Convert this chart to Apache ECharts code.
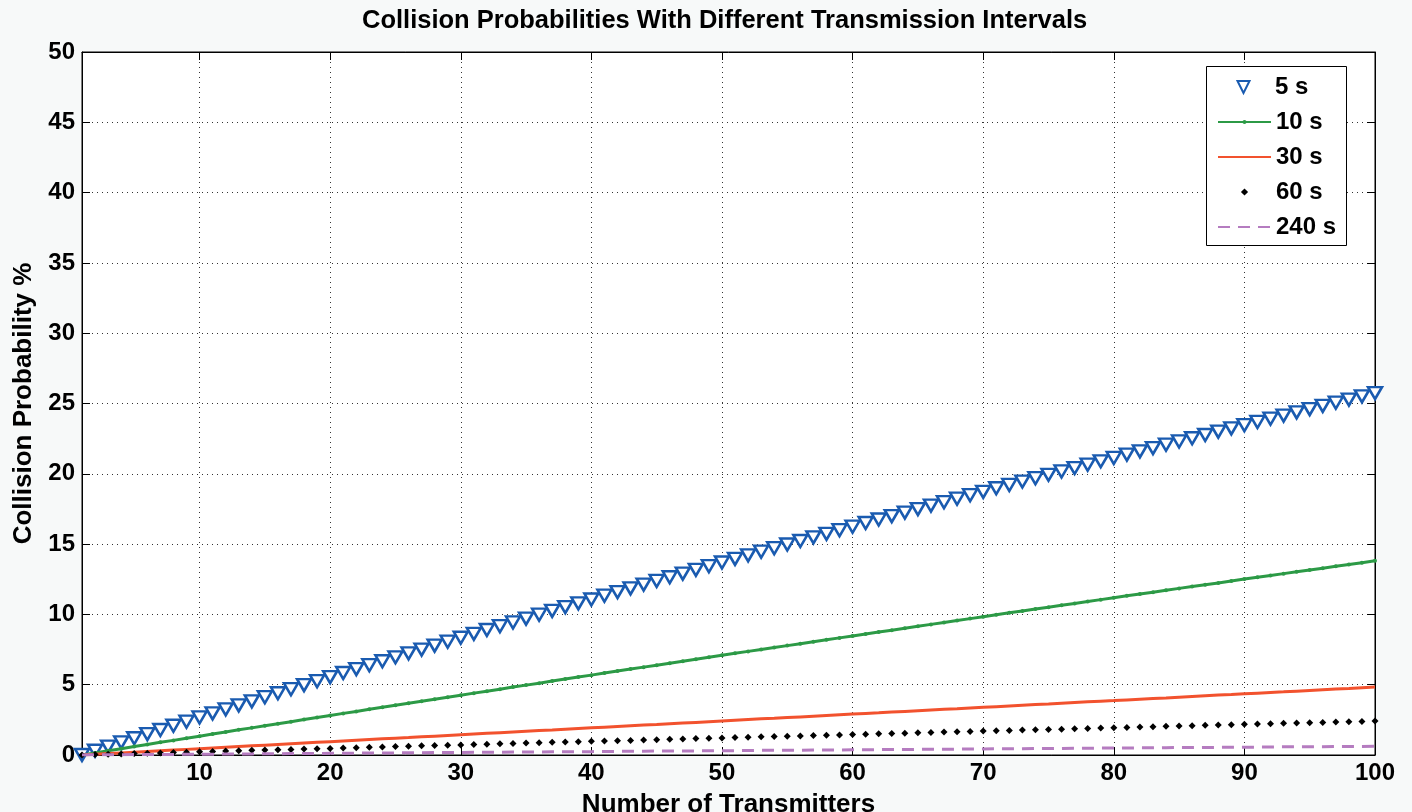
<!DOCTYPE html>
<html>
<head>
<meta charset="utf-8">
<title>Collision Probabilities</title>
<script src="https://cdn.jsdelivr.net/npm/echarts@6/dist/echarts.min.js"></script>
<style>
  html, body { margin: 0; padding: 0; background: #f7f9f9; }
  #chart { width: 1412px; height: 812px; }
</style>
</head>
<body>
<div id="chart"></div>
<script>
// collision probability (%) per number of transmitters, n = 1..100
const xTicks = [10, 20, 30, 40, 50, 60, 70, 80, 90, 100];

const p5s = [
  0, 0.30, 0.60, 0.90, 1.19, 1.49, 1.78, 2.08, 2.37, 2.67,
  2.96, 3.25, 3.53, 3.82, 4.11, 4.39, 4.68, 4.97, 5.25, 5.54,
  5.83, 6.11, 6.39, 6.67, 6.95, 7.23, 7.50, 7.78, 8.06, 8.34,
  8.62, 8.89, 9.16, 9.43, 9.70, 9.98, 10.25, 10.52, 10.79, 11.06,
  11.33, 11.59, 11.85, 12.12, 12.38, 12.64, 12.90, 13.17, 13.43, 13.69,
  13.95, 14.20, 14.46, 14.71, 14.97, 15.22, 15.48, 15.73, 15.99, 16.24,
  16.50, 16.75, 16.99, 17.24, 17.49, 17.74, 17.98, 18.23, 18.48, 18.72,
  18.97, 19.21, 19.45, 19.69, 19.93, 20.17, 20.41, 20.65, 20.89, 21.13,
  21.37, 21.60, 21.83, 22.07, 22.30, 22.53, 22.76, 23.00, 23.23, 23.46,
  23.69, 23.92, 24.14, 24.37, 24.60, 24.83, 25.06, 25.28, 25.51, 25.74
];

const p10s = [
  0, 0.15, 0.30, 0.45, 0.60, 0.75, 0.90, 1.04, 1.19, 1.34,
  1.49, 1.64, 1.79, 1.93, 2.08, 2.23, 2.37, 2.52, 2.67, 2.81,
  2.96, 3.10, 3.25, 3.39, 3.54, 3.68, 3.82, 3.97, 4.11, 4.25,
  4.40, 4.54, 4.68, 4.83, 4.97, 5.11, 5.26, 5.40, 5.54, 5.68,
  5.83, 5.97, 6.11, 6.25, 6.39, 6.53, 6.67, 6.81, 6.95, 7.09,
  7.23, 7.37, 7.51, 7.64, 7.78, 7.92, 8.06, 8.19, 8.33, 8.47,
  8.61, 8.75, 8.88, 9.02, 9.15, 9.29, 9.43, 9.56, 9.70, 9.83,
  9.97, 10.11, 10.24, 10.38, 10.51, 10.65, 10.78, 10.92, 11.05, 11.19,
  11.32, 11.45, 11.58, 11.72, 11.85, 11.98, 12.11, 12.24, 12.38, 12.51,
  12.64, 12.77, 12.90, 13.03, 13.16, 13.29, 13.42, 13.55, 13.68, 13.81
];

const p30s = [
  0, 0.05, 0.10, 0.15, 0.20, 0.25, 0.30, 0.35, 0.40, 0.45,
  0.50, 0.55, 0.60, 0.65, 0.70, 0.75, 0.80, 0.85, 0.90, 0.95,
  1.00, 1.05, 1.10, 1.15, 1.20, 1.24, 1.29, 1.34, 1.39, 1.44,
  1.49, 1.54, 1.59, 1.64, 1.69, 1.74, 1.78, 1.83, 1.88, 1.93,
  1.98, 2.03, 2.08, 2.13, 2.17, 2.22, 2.27, 2.32, 2.37, 2.42,
  2.47, 2.52, 2.57, 2.61, 2.66, 2.71, 2.76, 2.81, 2.86, 2.91,
  2.96, 3.00, 3.05, 3.10, 3.15, 3.20, 3.25, 3.29, 3.34, 3.39,
  3.44, 3.49, 3.54, 3.59, 3.63, 3.68, 3.73, 3.78, 3.83, 3.87,
  3.92, 3.97, 4.02, 4.06, 4.11, 4.16, 4.21, 4.26, 4.30, 4.35,
  4.40, 4.45, 4.49, 4.54, 4.59, 4.64, 4.69, 4.73, 4.78, 4.83
];

const p60s = [
  0, 0.03, 0.05, 0.08, 0.10, 0.13, 0.15, 0.18, 0.20, 0.23,
  0.25, 0.28, 0.30, 0.33, 0.35, 0.37, 0.40, 0.42, 0.45, 0.47,
  0.50, 0.52, 0.55, 0.57, 0.60, 0.62, 0.65, 0.67, 0.70, 0.72,
  0.75, 0.77, 0.80, 0.82, 0.85, 0.87, 0.90, 0.92, 0.94, 0.97,
  0.99, 1.02, 1.04, 1.07, 1.09, 1.12, 1.14, 1.17, 1.19, 1.21,
  1.24, 1.26, 1.29, 1.31, 1.34, 1.36, 1.38, 1.41, 1.43, 1.46,
  1.48, 1.51, 1.53, 1.55, 1.58, 1.60, 1.63, 1.65, 1.68, 1.70,
  1.72, 1.75, 1.77, 1.80, 1.82, 1.84, 1.87, 1.89, 1.92, 1.94,
  1.96, 1.99, 2.01, 2.04, 2.06, 2.08, 2.11, 2.13, 2.15, 2.18,
  2.20, 2.23, 2.25, 2.27, 2.30, 2.32, 2.34, 2.37, 2.39, 2.42
];

const p240s = [
  0, 0.01, 0.01, 0.02, 0.03, 0.03, 0.04, 0.04, 0.05, 0.06,
  0.06, 0.07, 0.08, 0.08, 0.09, 0.09, 0.10, 0.11, 0.11, 0.12,
  0.13, 0.13, 0.14, 0.14, 0.15, 0.16, 0.16, 0.17, 0.18, 0.18,
  0.19, 0.19, 0.20, 0.21, 0.21, 0.22, 0.23, 0.23, 0.24, 0.24,
  0.25, 0.26, 0.26, 0.27, 0.28, 0.28, 0.29, 0.29, 0.30, 0.31,
  0.31, 0.32, 0.33, 0.33, 0.34, 0.34, 0.35, 0.36, 0.36, 0.37,
  0.38, 0.38, 0.39, 0.39, 0.40, 0.41, 0.41, 0.42, 0.43, 0.43,
  0.44, 0.44, 0.45, 0.46, 0.46, 0.47, 0.48, 0.48, 0.49, 0.49,
  0.50, 0.51, 0.51, 0.52, 0.53, 0.53, 0.54, 0.54, 0.55, 0.56,
  0.56, 0.57, 0.58, 0.58, 0.59, 0.59, 0.60, 0.61, 0.61, 0.62
];

const font = '"Liberation Sans", Arial, sans-serif';
const toPairs = (arr) => arr.map((v, i) => [i + 1, v]);

const chart = echarts.init(document.getElementById('chart'), null, { renderer: 'canvas' });

const tickStyle = { show: true, inside: true, length: 8, lineStyle: { color: '#000', width: 1 } };
const gridLine = { show: true, lineStyle: { color: '#333', width: 1, type: [1, 4] } };
const legendText = { fontFamily: font, fontWeight: 'bold', fontSize: 24, color: '#000' };

// three legends share one box so each can keep its own marker size
function legendPart(names, top, itemHeight) {
  return {
    orient: 'vertical',
    left: 1217,
    top: top,
    padding: 0,
    itemWidth: 53,
    itemHeight: itemHeight,
    itemGap: 11,
    textStyle: legendText,
    z: 12,
    data: names
  };
}

const option = {
  backgroundColor: '#f7f9f9',
  animation: false,
  title: {
    text: 'Collision Probabilities With Different Transmission Intervals',
    left: 362,
    top: 8,
    padding: 0,
    textStyle: { fontFamily: font, fontWeight: 'bold', fontSize: 25.5, color: '#000' }
  },
  grid: {
    left: 82, right: 37, top: 52, bottom: 57,
    outerBoundsMode: 'none',
    containLabel: false,
    show: true, backgroundColor: '#ffffff', borderColor: '#000', borderWidth: 1
  },
  graphic: [{
    type: 'rect',
    z: 11,
    shape: { x: 1206.5, y: 66.5, width: 140, height: 179 },
    style: { fill: '#ffffff', stroke: '#000', lineWidth: 1 }
  }],
  legend: [
    legendPart(['5 s'], 75, 15),
    legendPart([
      { name: '10 s' },
      { name: '30 s', itemStyle: { opacity: 0 } }
    ], 110, 5),
    legendPart([
      { name: '60 s' },
      { name: '240 s', itemStyle: { opacity: 0 } }
    ], 180, 9)
  ],
  xAxis: [{
    type: 'value',
    min: 1,
    max: 100,
    name: 'Number of Transmitters',
    nameLocation: 'middle',
    nameGap: 37,
    nameMoveOverlap: false,
    nameTextStyle: { fontFamily: font, fontWeight: 'bold', fontSize: 26, color: '#000' },
    axisLine: { show: true, onZero: false, lineStyle: { color: '#000', width: 1 } },
    axisTick: Object.assign({ customValues: xTicks }, tickStyle),
    axisLabel: { customValues: xTicks, fontFamily: font, fontWeight: 'bold', fontSize: 24, color: '#000', margin: 6 },
    splitLine: gridLine
  }, {
    type: 'value',
    position: 'top',
    min: 1,
    max: 100,
    axisLine: { show: true, onZero: false, lineStyle: { color: '#000', width: 1 } },
    axisTick: Object.assign({ customValues: xTicks }, tickStyle),
    axisLabel: { show: false },
    splitLine: { show: false }
  }],
  yAxis: [{
    type: 'value',
    min: 0,
    max: 50,
    interval: 5,
    name: 'Collision Probability %',
    nameLocation: 'middle',
    nameGap: 45,
    nameMoveOverlap: false,
    nameTextStyle: { fontFamily: font, fontWeight: 'bold', fontSize: 26, color: '#000' },
    axisLine: { show: true, onZero: false, lineStyle: { color: '#000', width: 1 } },
    axisTick: tickStyle,
    axisLabel: { fontFamily: font, fontWeight: 'bold', fontSize: 24, color: '#000', margin: 7 },
    splitLine: gridLine
  }, {
    type: 'value',
    position: 'right',
    min: 0,
    max: 50,
    interval: 5,
    axisLine: { show: true, onZero: false, lineStyle: { color: '#000', width: 1 } },
    axisTick: tickStyle,
    axisLabel: { show: false },
    splitLine: { show: false }
  }],
  series: [
    {
      name: '5 s',
      type: 'line',
      data: toPairs(p5s),
      symbol: 'triangle',
      symbolRotate: 180,
      symbolSize: [14, 12],
      showAllSymbol: true,
      clip: false,
      lineStyle: { opacity: 0, width: 0 },
      itemStyle: { color: '#ffffff', borderColor: '#1a5bb0', borderWidth: 2.5 },
      z: 2
    },
    {
      name: '10 s',
      type: 'line',
      data: toPairs(p10s),
      symbol: 'circle',
      symbolSize: 4,
      showAllSymbol: true,
      lineStyle: { color: '#2c9a46', width: 3 },
      itemStyle: { color: '#2c9a46', borderWidth: 0 },
      z: 3
    },
    {
      name: '30 s',
      type: 'line',
      data: toPairs(p30s),
      symbol: 'none',
      lineStyle: { color: '#f2522e', width: 3 },
      itemStyle: { color: '#f2522e' },
      z: 4
    },
    {
      name: '60 s',
      type: 'line',
      data: toPairs(p60s),
      symbol: 'diamond',
      symbolSize: 7,
      showAllSymbol: true,
      lineStyle: { opacity: 0, width: 0 },
      itemStyle: { color: '#000000', borderWidth: 0 },
      z: 5
    },
    {
      name: '240 s',
      type: 'line',
      data: toPairs(p240s),
      symbol: 'none',
      lineStyle: { color: '#b57cc0', width: 3, type: [12, 8] },
      itemStyle: { color: '#b57cc0' },
      z: 6
    }
  ]
};

chart.setOption(option);
</script>
</body>
</html>
